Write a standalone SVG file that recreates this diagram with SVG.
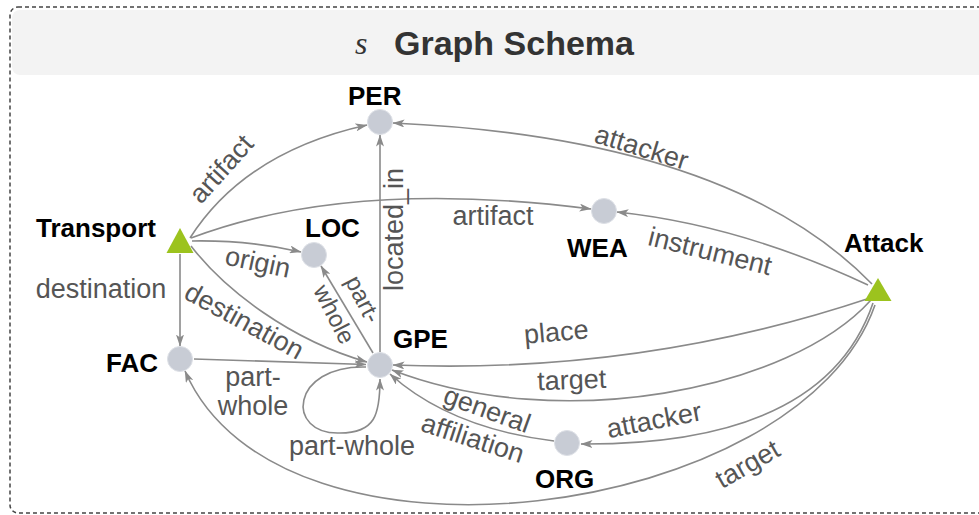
<svg xmlns="http://www.w3.org/2000/svg" width="979" height="515" viewBox="0 0 979 515">
<style>
.edge{fill:none;stroke:#8a8a8a;stroke-width:1.6;marker-end:url(#arr)}
.lbl{font-family:"Liberation Sans",Arial,sans-serif;font-size:27px;fill:#555;text-anchor:middle}
.nl{font-family:"Liberation Sans",Arial,sans-serif;font-size:26px;font-weight:bold;fill:#000}
.ent{fill:#c8ccd5;stroke:#dde0e6;stroke-width:1}
.evt{fill:#9cc31e}
</style>
<defs>
<marker id="arr" viewBox="0 0 12 8" refX="11.5" refY="4" markerWidth="12" markerHeight="8" markerUnits="userSpaceOnUse" orient="auto">
<path d="M0,0 L12,4 L0,8 L3,4 z" fill="#8a8a8a"/>
</marker>
</defs>
<rect x="10" y="7" width="1000" height="506" rx="8" fill="#fff" stroke="#444" stroke-width="1.5" stroke-dasharray="4 3"/>
<rect x="12" y="10" width="1000" height="65" rx="8" fill="#f3f3f3"/>
<text x="355" y="54" font-family="'Liberation Serif',serif" font-style="italic" font-size="32" fill="#333">s</text>
<text x="394" y="55" font-family="'Liberation Sans',Arial,sans-serif" font-weight="bold" font-size="34" fill="#333">Graph Schema</text>

<g id="edges">
<path class="edge" d="M190,238 Q245,152 367,125"/>
<path class="edge" d="M191,238 Q350,178 591,209"/>
<path class="edge" d="M192,241 Q250,240 301,252"/>
<path class="edge" d="M180,254 L180,346"/>
<path class="edge" d="M191,246 C225,290 290,340 367,362"/>
<path class="edge" d="M194,359 L366,364.5"/>
<path class="edge" d="M366,367 C290,365 285,435 340,433 C375,433 380,415 380,379"/>
<path class="edge" d="M373,353 L321,266"/>
<path class="edge" d="M380,352 L380,135"/>
<path class="edge" d="M872,284 Q730,138 393,123"/>
<path class="edge" d="M868,285 Q740,225 617,212"/>
<path class="edge" d="M870,298 Q640,375 393,365"/>
<path class="edge" d="M871,300 C790,390 560,435 392,370"/>
<path class="edge" d="M873,303 C840,400 740,445 581,444"/>
<path class="edge" d="M875,305 C800,520 280,590 185,371"/>
<path class="edge" d="M554,441 Q450,428 390,374"/>
<text class="lbl" transform="translate(228,175) rotate(-48)">artifact</text>
<text class="lbl" x="493" y="225">artifact</text>
<text class="lbl" transform="translate(256,271) rotate(12)">origin</text>
<text class="lbl" x="101" y="298">destination</text>
<text class="lbl" transform="translate(240,329) rotate(28.5)">destination</text>
<text class="lbl" x="253" y="386">part-</text>
<text class="lbl" x="253" y="415">whole</text>
<text class="lbl" x="352" y="455">part-whole</text>
<text class="lbl" style="font-size:24px" transform="translate(356,303) rotate(63)">part-</text>
<text class="lbl" style="font-size:24px" transform="translate(327,318) rotate(63)">whole</text>
<text class="lbl" style="text-anchor:start" transform="translate(403,291) rotate(-90)">located_in</text>
<text class="lbl" transform="translate(639,156) rotate(17)">attacker</text>
<text class="lbl" transform="translate(708,260) rotate(14)">instrument</text>
<text class="lbl" transform="translate(557,341) rotate(-5)">place</text>
<text class="lbl" transform="translate(572,389) rotate(-2)">target</text>
<text class="lbl" transform="translate(484,418) rotate(20)">general</text>
<text class="lbl" transform="translate(470,447) rotate(18)">affiliation</text>
<text class="lbl" transform="translate(656,429) rotate(-11)">attacker</text>
<text class="lbl" transform="translate(752,472) rotate(-30)">target</text>
</g>

<g id="PER"><circle class="ent" cx="380" cy="122" r="12.5"/><text class="nl" x="348" y="105">PER</text></g>
<g id="LOC"><circle class="ent" cx="314" cy="255" r="12.5"/><text class="nl" x="305" y="237">LOC</text></g>
<g id="WEA"><circle class="ent" cx="604" cy="211" r="12.5"/><text class="nl" x="567" y="257">WEA</text></g>
<g id="GPE"><circle class="ent" cx="380" cy="365" r="12.5"/><text class="nl" x="393" y="348">GPE</text></g>
<g id="FAC"><circle class="ent" cx="180" cy="359" r="12.5"/><text class="nl" x="106" y="372">FAC</text></g>
<g id="ORG"><circle class="ent" cx="567" cy="443" r="12.5"/><text class="nl" x="535" y="488">ORG</text></g>
<g id="Transport"><polygon class="evt" points="180,228 166.5,253 193.5,253"/><text class="nl" x="36" y="237">Transport</text></g>
<g id="Attack"><polygon class="evt" points="878,278 864.5,301 891.5,301"/><text class="nl" x="844" y="252">Attack</text></g>
</svg>
